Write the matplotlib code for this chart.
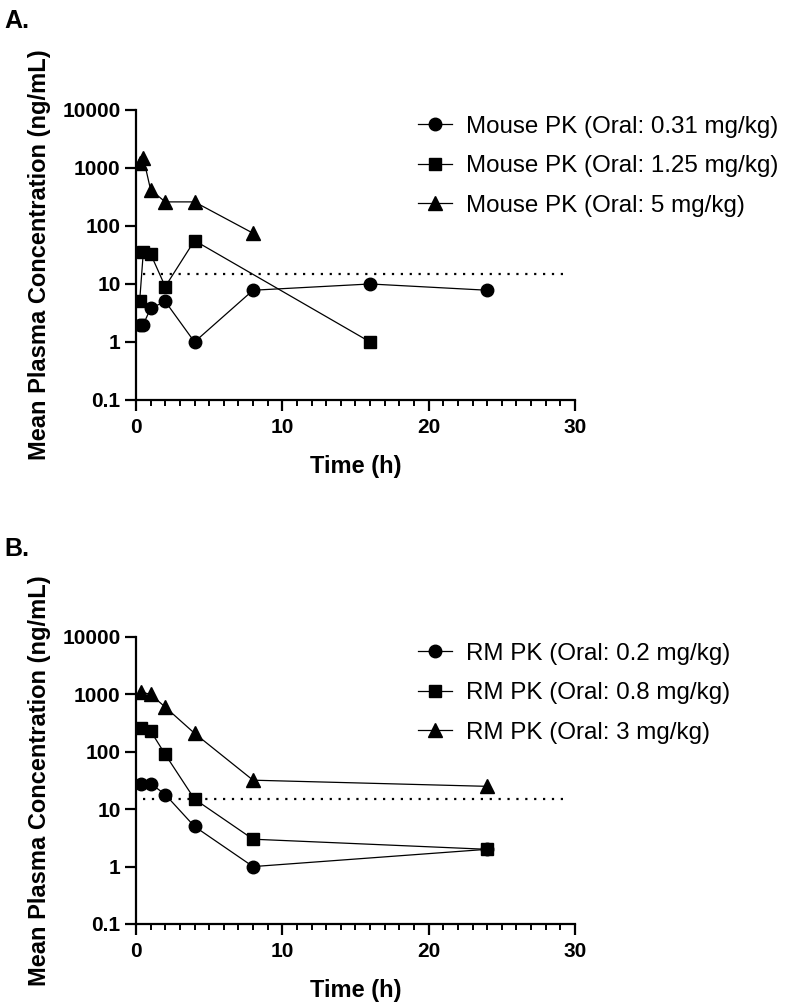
import numpy as np
import matplotlib
matplotlib.use("Agg")
import matplotlib.pyplot as plt
from matplotlib.ticker import MultipleLocator

plt.rcParams['font.family'] = ['Liberation Sans', 'DejaVu Sans']

# panel A - mouse
mouse_low_t = [0.25, 0.5, 1, 2, 4, 8, 16, 24]
mouse_low_c = [2, 2, 3.8, 5, 1, 7.8, 10, 7.8]
mouse_mid_t = [0.25, 0.5, 1, 2, 4, 16]
mouse_mid_c = [5, 35, 33, 9, 56, 1]
mouse_high_t = [0.25, 0.5, 1, 2, 4, 8]
mouse_high_c = [1200, 1500, 420, 260, 260, 75]
mouse_labels = ["Mouse PK (Oral: 0.31 mg/kg)", "Mouse PK (Oral: 1.25 mg/kg)",
                "Mouse PK (Oral: 5 mg/kg)"]

# panel B - rhesus monkey
rm_t = [0.33, 1, 2, 4, 8, 24]
rm_low_c = [27, 28, 18, 5, 1, 2]
rm_mid_c = [260, 230, 90, 15, 3, 2]
rm_high_c = [1100, 1000, 600, 210, 32, 25]
rm_labels = ["RM PK (Oral: 0.2 mg/kg)", "RM PK (Oral: 0.8 mg/kg)",
             "RM PK (Oral: 3 mg/kg)"]

lloq = 15
lloq_t = [0.5, 29.3]

yticks = [0.1, 1, 10, 100, 1000, 10000]
ytick_labels = ["0.1", "1", "10", "100", "1000", "10000"]
xticks = [0, 10, 20, 30]

markers = ["o", "s", "^"]
msizes = [9, 9, 10]

fig = plt.figure(figsize=(7.86, 10.05), dpi=100)
axA = fig.add_axes([0.173, 0.602, 0.5585, 0.2886])
axB = fig.add_axes([0.173, 0.0806, 0.5585, 0.2856])


def style(ax):
    ax.set_yscale("log")
    ax.set_ylim(0.1, 10000)
    ax.set_xlim(0, 30)
    ax.set_yticks(yticks)
    ax.set_yticklabels(ytick_labels)
    ax.yaxis.set_minor_locator(plt.NullLocator())
    ax.set_xticks(xticks)
    ax.xaxis.set_minor_locator(MultipleLocator(1))
    for s in ["top", "right"]:
        ax.spines[s].set_visible(False)
    for s in ["left", "bottom"]:
        ax.spines[s].set_linewidth(1.6)
    ax.tick_params(which="major", length=8, width=1.6, labelsize=15, pad=3)
    ax.tick_params(axis="x", which="major", pad=5)
    ax.tick_params(which="minor", length=4.5, width=1.4)
    for lab in ax.get_xticklabels() + ax.get_yticklabels():
        lab.set_fontweight("bold")
    ax.set_xlabel("Time (h)", fontsize=17, fontweight="bold", labelpad=13)
    ax.set_ylabel("Mean Plasma Concentration (ng/mL)", fontsize=17,
                  fontweight="bold", labelpad=8)
    ax.plot(lloq_t, [lloq, lloq], color="black", lw=1.6, linestyle=(0, (1, 3)))
    ax.legend(loc="upper left", bbox_to_anchor=(0.642, 0.98), frameon=False,
              borderpad=0, borderaxespad=0,
              fontsize=17.4, handlelength=1.4, handletextpad=0.58,
              labelspacing=0.72)


series_A = [(mouse_low_t, mouse_low_c), (mouse_mid_t, mouse_mid_c),
            (mouse_high_t, mouse_high_c)]
for (t, c), m, ms, lab in zip(series_A, markers, msizes, mouse_labels):
    axA.plot(t, c, color="black", lw=0.9, marker=m, markersize=ms, label=lab)

series_B = [rm_low_c, rm_mid_c, rm_high_c]
for c, m, ms, lab in zip(series_B, markers, msizes, rm_labels):
    axB.plot(rm_t, c, color="black", lw=0.9, marker=m, markersize=ms, label=lab)

style(axA)
style(axB)

fig.text(0.006, 0.972, "A.", fontsize=18, fontweight="bold")
fig.text(0.006, 0.447, "B.", fontsize=18, fontweight="bold")

fig.savefig("out.png", dpi=100)
